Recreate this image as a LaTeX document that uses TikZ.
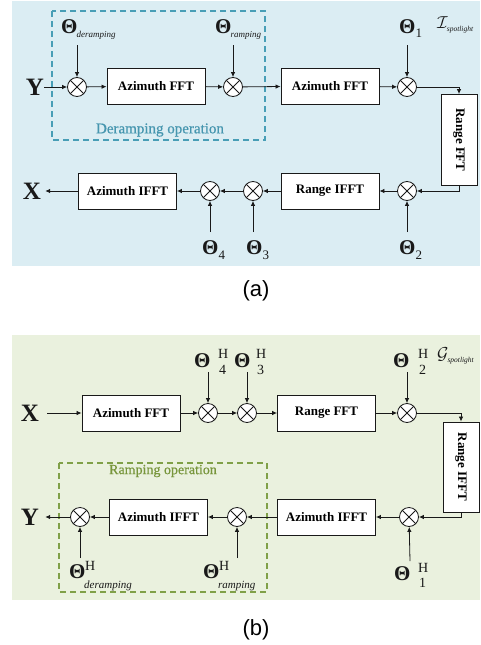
\documentclass[tikz,border=0pt]{standalone}
\usepackage{fontspec}
\usepackage{graphicx}
\setmainfont{Liberation Serif}
\newfontfamily\lsans{Liberation Sans}
\newfontfamily\semiserif[FakeBold=0.6]{Liberation Serif}
\usetikzlibrary{arrows.meta}
\definecolor{bgA}{RGB}{219,237,243}
\definecolor{bgB}{RGB}{234,241,222}
\definecolor{dashA}{RGB}{72,158,182}
\definecolor{dashB}{RGB}{128,160,72}
\definecolor{txtA}{RGB}{70,150,175}
\definecolor{txtB}{RGB}{120,150,60}
\definecolor{ink}{RGB}{25,25,25}
\newcommand\Tbig{{\fontsize{21}{21}\selectfont\bfseries Θ}}
\newcommand\Tsubit[1]{\hspace{-1pt}\raisebox{-5pt}{\fontsize{9}{9}\selectfont\itshape #1}}
\newcommand\Tsubrm[1]{\raisebox{-5pt}{\fontsize{13}{13}\selectfont #1}}
\begin{document}
\begin{tikzpicture}[x=1pt,y=-1pt,
  proc/.style={draw=ink, line width=0.9pt, fill=white, minimum width=98pt, minimum height=36pt, inner sep=0pt, font=\fontsize{13}{13}\selectfont\bfseries},
  vproc/.style={proc, minimum width=36pt, minimum height=91pt},
  mix/.style={circle, draw=ink, line width=0.8pt, fill=white, minimum size=19pt, inner sep=0pt,
    path picture={\draw[line width=0.8pt, ink] (path picture bounding box.north west) -- (path picture bounding box.south east) (path picture bounding box.north east) -- (path picture bounding box.south west);}},
  conn/.style={-{Latex[length=5pt,width=4.5pt]}, line width=0.8pt, draw=ink},
  lbl/.style={anchor=base west, inner sep=0pt, text=ink},
  bigl/.style={inner sep=0pt, font=\fontsize{25}{25}\selectfont\bfseries, text=ink},
  Hs/.style={anchor=base west, inner sep=0pt, font=\fontsize{14}{14}\selectfont, text=ink},
  captxt/.style={font=\lsans\fontsize{22}{22}\selectfont, text=black}
]
\path[use as bounding box] (0,0) rectangle (480,645);
% backgrounds
\fill[bgA] (12,1) rectangle (480,266);
\fill[bgB] (12,335) rectangle (480,600);

% ===== panel (a) =====
\draw[dashA, line width=1.1pt, dash pattern=on 6pt off 4pt] (52,11) rectangle (265,140);
\node[text=txtA, font=\semiserif\fontsize{15}{15}\selectfont] (dop) at (160,130) {Deramping operation};

\node[bigl] (Ya) at (35,87) {Y};
\node[mix] (a1) at (77,87) {};
\node[proc] (ab1) at (156,86) {Azimuth FFT};
\node[mix] (a2) at (233,87) {};
\node[proc] (ab2) at (330,86) {Azimuth FFT};
\node[mix] (a3) at (407,87) {};
\node[vproc] (arf) at (459,140) {\rotatebox{-90}{Range FFT}};
\node[mix] (a4) at (407,191) {};
\node[proc] (ab3) at (330,191) {Range IFFT};
\node[mix] (a5) at (253,191) {};
\node[mix] (a6) at (210,191) {};
\node[proc] (ab4) at (127.5,191) {Azimuth IFFT};
\node[bigl] (Xa) at (32,191) {X};

\draw[conn] (Ya.east) -- (a1);
\draw[conn] (a1) -- (ab1);
\draw[conn] (ab1) -- (a2);
\draw[conn] (a2) -- (ab2);
\draw[conn] (ab2) -- (a3);
\draw[conn] (a3.east) -| (arf.north);
\draw[conn] (arf.south) |- (a4.east);
\draw[conn] (a4) -- (ab3);
\draw[conn] (ab3) -- (a5);
\draw[conn] (a5) -- (a6);
\draw[conn] (a6) -- (ab4);
\draw[conn] (ab4) -- ([xshift=4pt]Xa.east);

% labels top (a)
\node[lbl] (la1) at (61,33) {\Tbig\Tsubit{deramping}};
\node[lbl] (la2) at (215,33) {\Tbig\Tsubit{ramping}};
\node[lbl] (la3) at (399,33) {\Tbig\Tsubrm{1}};
\node[lbl] (spA) at (437,28) {\fontsize{16}{16}\selectfont$\mathcal{I}$\hspace{-1pt}\raisebox{-3pt}{\fontsize{7.5}{7.5}\selectfont\itshape spotlight}};
\coordinate (ca1) at (77,45);
\coordinate (ca2) at (233,45);
\coordinate (ca3) at (407,45);
\draw[conn] (ca1) -- (a1);
\draw[conn] (ca2) -- (a2);
\draw[conn] (ca3) -- (a3);
% labels bottom (a)
\node[lbl] (la4) at (202,254) {\Tbig\Tsubrm{4}};
\node[lbl] (la5) at (246,254) {\Tbig\Tsubrm{3}};
\node[lbl] (la6) at (399,254) {\Tbig\Tsubrm{2}};
\coordinate (ca4) at (210,232);
\coordinate (ca5) at (253,232);
\coordinate (ca6) at (407,232);
\draw[conn] (ca4) -- (a6);
\draw[conn] (ca5) -- (a5);
\draw[conn] (ca6) -- (a4);

\node[captxt] (capA) at (256,291) {(a)};

% ===== panel (b) =====
\draw[dashB, line width=1.1pt, dash pattern=on 6pt off 4pt] (59,463) rectangle (267,592);
\node[text=txtB, font=\semiserif\fontsize{14}{14}\selectfont] (rop) at (163,471) {Ramping operation};

\node[bigl] (Xb) at (30,413) {X};
\node[proc] (bb1) at (131,413) {Azimuth FFT};
\node[mix] (b1) at (208,413) {};
\node[mix] (b2) at (247,413) {};
\node[proc] (bb2) at (326.5,413) {Range FFT};
\node[mix] (b3) at (407,413) {};
\node[vproc, minimum height=90pt] (brf) at (461,467) {\rotatebox{-90}{Range IFFT}};
\node[mix] (b4) at (409,517) {};
\node[proc] (bb3) at (326.5,517) {Azimuth IFFT};
\node[mix] (b5) at (237,517) {};
\node[proc] (bb4) at (158.5,517) {Azimuth IFFT};
\node[mix] (b6) at (80,517) {};
\node[bigl] (Yb) at (30,517) {Y};

\draw[conn] ([xshift=8pt]Xb.east) -- (bb1);
\draw[conn] (bb1) -- (b1);
\draw[conn] (b1) -- (b2);
\draw[conn] (b2) -- (bb2);
\draw[conn] (bb2) -- (b3);
\draw[conn] (b3.east) -| (brf.north);
\draw[conn] (brf.south) |- (b4.east);
\draw[conn] (b4) -- (bb3);
\draw[conn] (bb3) -- (b5);
\draw[conn] (b5) -- (bb4);
\draw[conn] (bb4) -- (b6);
\draw[conn] (b6) -- ([xshift=6pt]Yb.east);

% labels top (b)
\node[lbl] (lb1) at (194,367) {\Tbig};
\node[Hs] (hb1) at (218,358) {H};
\node[Hs] (sb1) at (219,374) {4};
\node[lbl] (lb2) at (234,367) {\Tbig};
\node[Hs] (hb2) at (256,358) {H};
\node[Hs] (sb2) at (257,374) {3};
\node[lbl] (lb3) at (393,367) {\Tbig};
\node[Hs] (hb3) at (418,358) {H};
\node[Hs] (sb3) at (419,374) {2};
\node[lbl] (spB) at (437,359) {\fontsize{16}{16}\selectfont$\mathcal{G}$\hspace{-1pt}\raisebox{-3pt}{\fontsize{7.5}{7.5}\selectfont\itshape spotlight}};
\coordinate (cb1) at (208,372);
\coordinate (cb2) at (247,372);
\coordinate (cb3) at (407,372);
\draw[conn] (cb1) -- (b1);
\draw[conn] (cb2) -- (b2);
\draw[conn] (cb3) -- (b3);
% labels bottom (b)
\node[lbl] (lb4) at (69,578) {\Tbig};
\node[Hs] (hb4) at (85,570) {H};
\node[lbl, font=\fontsize{11}{11}\selectfont\itshape] (sb4) at (84,588) {deramping};
\node[lbl] (lb5) at (203,578) {\Tbig};
\node[Hs] (hb5) at (219,570) {H};
\node[lbl, font=\fontsize{11}{11}\selectfont\itshape] (sb5) at (218,588) {ramping};
\node[lbl] (lb6) at (394,580) {\Tbig};
\node[Hs] (hb6) at (418,572) {H};
\node[Hs] (sb6) at (419,587) {1};
\coordinate (cb4) at (80,558);
\coordinate (cb5) at (237,558);
\coordinate (cb6) at (410,561);
\draw[conn] (cb4) -- (b6);
\draw[conn] (cb5) -- (b5);
\draw[conn] (cb6) -- (b4);

\node[captxt] (capB) at (256,630) {(b)};
\end{tikzpicture}
\end{document}
